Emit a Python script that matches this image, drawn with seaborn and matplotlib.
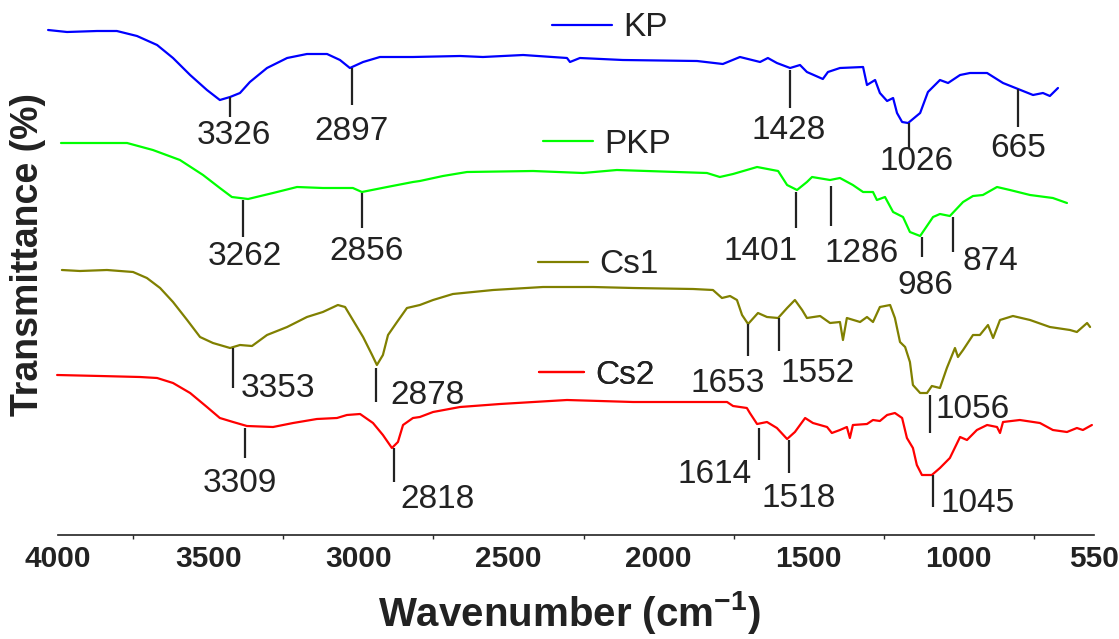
import matplotlib
matplotlib.use("Agg")
import matplotlib.pyplot as plt
import seaborn as sns

# === Spectra (stacked, arbitrary transmittance units) ===
kp_wn = [4033, 3970, 3870, 3804, 3737, 3670, 3617, 3560, 3504, 3461, 3427, 3394, 3361, 3304,
         3237, 3171, 3104, 3061, 3028, 2984, 2928, 2818, 2661, 2585, 2451, 2305, 2295, 2262,
         2119, 1872, 1786, 1729, 1662, 1636, 1606, 1562, 1529, 1506, 1453, 1436, 1396, 1319,
         1306, 1279, 1263, 1239, 1219, 1206, 1189, 1169, 1129, 1103, 1063, 1036, 996, 963,
         906, 853, 803, 753, 720, 697, 670]
kp_t = [505, 503, 504, 504, 499, 490, 477, 460, 445, 435, 438, 442, 453, 467,
        477, 481, 481, 475, 467, 473, 478, 478, 479, 478, 480, 477, 473, 477,
        475, 474, 471, 478, 473, 477, 472, 467, 470, 463, 456, 463, 467, 468,
        450, 455, 442, 434, 437, 422, 413, 412, 422, 443, 455, 452, 460, 462,
        462, 452, 446, 440, 442, 439, 447]

pkp_wn = [3990, 3860, 3770, 3684, 3594, 3517, 3461, 3421, 3367, 3284, 3204, 3118, 3018, 2988,
          2904, 2818, 2795, 2718, 2638, 2418, 2252, 2139, 1939, 1839, 1796, 1752, 1672, 1602,
          1572, 1539, 1506, 1489, 1429, 1396, 1353, 1319, 1286, 1273, 1246, 1219, 1186, 1163,
          1129, 1086, 1063, 1030, 986, 953, 920, 873, 830, 763, 687, 640]
pkp_t = [392, 392, 392, 385, 375, 360, 347, 338, 336, 342, 348, 347, 347, 343,
         348, 353, 354, 359, 363, 364, 362, 365, 363, 362, 358, 361, 368, 364,
         350, 345, 353, 358, 355, 357, 350, 343, 343, 335, 338, 323, 318, 303,
         299, 318, 321, 319, 333, 339, 340, 348, 345, 340, 337, 332]

cs1_wn = [3987, 3927, 3837, 3750, 3704, 3660, 3617, 3570, 3527, 3484, 3427, 3394, 3354, 3304,
          3237, 3171, 3118, 3068, 3044, 3018, 2984, 2954, 2938, 2918, 2901, 2871, 2838, 2795,
          2751, 2685, 2551, 2385, 2218, 2085, 1885, 1819, 1789, 1762, 1739, 1722, 1702, 1669,
          1639, 1602, 1572, 1546, 1522, 1506, 1462, 1429, 1396, 1386, 1373, 1329, 1306, 1286,
          1263, 1229, 1213, 1196, 1179, 1163, 1153, 1129, 1106, 1090, 1063, 1040, 1013, 1003,
          986, 953, 930, 903, 886, 863, 820, 763, 697, 630, 607, 573, 563]
cs1_t = [265, 264, 265, 263, 257, 247, 233, 215, 198, 192, 187, 190, 189, 200,
         208, 218, 223, 230, 228, 215, 198, 180, 170, 180, 200, 213, 227, 230,
         235, 241, 245, 248, 248, 247, 246, 245, 237, 239, 235, 220, 211, 222,
         218, 217, 227, 235, 225, 217, 219, 212, 213, 195, 217, 213, 218, 213,
         228, 230, 217, 193, 188, 173, 150, 142, 142, 149, 147, 167, 187, 178,
         185, 200, 200, 210, 197, 215, 219, 215, 208, 205, 203, 212, 208]

cs2_wn = [4003, 3860, 3727, 3670, 3617, 3560, 3504, 3461, 3417, 3371, 3284, 3217, 3138, 3071,
          3038, 2994, 2951, 2918, 2888, 2868, 2851, 2818, 2795, 2751, 2661, 2528, 2305, 2195,
          2085, 1972, 1772, 1752, 1706, 1696, 1672, 1639, 1606, 1572, 1546, 1512, 1486, 1439,
          1423, 1396, 1373, 1363, 1353, 1306, 1286, 1263, 1239, 1213, 1189, 1173, 1153, 1140,
          1123, 1090, 1063, 1030, 996, 973, 940, 906, 873, 863, 853, 797, 730, 687, 640, 607,
          587, 557]
cs2_t = [160, 159, 158, 157, 152, 142, 128, 117, 113, 109, 108, 112, 116, 117,
         120, 121, 112, 100, 87, 93, 110, 117, 118, 123, 128, 131, 135, 134,
         133, 133, 133, 129, 127, 122, 111, 113, 107, 96, 103, 117, 112, 108,
         102, 105, 108, 97, 110, 111, 115, 114, 120, 122, 117, 97, 87, 70,
         60, 60, 67, 77, 98, 95, 105, 110, 108, 102, 113, 115, 112, 105, 103, 107,
         105, 110]

# === Peak marks: label, mark x, mark top, mark bottom, label x, label baseline ===
kp_peaks = [("3326", 3427, 438, 418, 3414, 391), ("2897", 3021, 467, 430, 3024, 395),
            ("1428", 1562, 465, 427, 1566, 396), ("1026", 1166, 412, 387, 1140, 365),
            ("665", 803, 446, 408, 803, 378)]
pkp_peaks = [("3262", 3384, 335, 298, 3377, 270), ("2856", 2988, 342, 307, 2974, 275),
             ("1401", 1542, 343, 307, 1659, 275), ("1286", 1426, 349, 309, 1323, 273),
             ("986", 1123, 298, 278, 1113, 241), ("874", 1020, 318, 283, 896, 265)]
cs1_peaks = [("3353", 3417, 187, 147, 3267, 138), ("2878", 2941, 167, 133, 2771, 131),
             ("1653", 1702, 211, 179, 1769, 143), ("1552", 1599, 217, 184, 1469, 153),
             ("1056", 1096, 140, 102, 953, 117)]
cs2_peaks = [("3309", 3377, 107, 77, 3394, 43), ("2818", 2881, 87, 53, 2735, 27),
             ("1614", 1666, 107, 75, 1815, 52), ("1518", 1566, 95, 62, 1532, 28),
             ("1045", 1086, 60, 28, 936, 23)]

names = ["KP", "PKP", "Cs1", "Cs2"]
colors = ["#0000ff", "#00ff00", "#808000", "#ff0000"]
spectra = [(kp_wn, kp_t), (pkp_wn, pkp_t), (cs1_wn, cs1_t), (cs2_wn, cs2_t)]
peaks = [kp_peaks, pkp_peaks, cs1_peaks, cs2_peaks]
# legend anchor (axes fraction) and handle length for each series
legend_pos = [(0.4768, 0.9477, 1.8), (0.4681, 0.7308, 1.5), (0.4633, 0.5047, 1.5), (0.4643, 0.2990, 1.35)]

# === Style ===
sns.set_style("white")
plt.rcParams["font.family"] = ["Liberation Sans", "DejaVu Sans"]
plt.rcParams["mathtext.fontset"] = "custom"
plt.rcParams["mathtext.rm"] = "Liberation Sans"
plt.rcParams["mathtext.bf"] = "Liberation Sans:bold"
text_color = "#222222"

fig = plt.figure(figsize=(11.19, 6.39), dpi=100)
ax = fig.add_axes([58 / 1119, 104 / 639, 1036 / 1119, 535 / 639])

handles = []
for (wn, t), name, col in zip(spectra, names, colors):
    sns.lineplot(x=wn, y=t, sort=False, color=col, linewidth=1.6, ax=ax)
    ln = ax.lines[-1]
    ln.set_clip_on(False)
    handles.append(ln)

# === Peak labels ===
for plist in peaks:
    for lab, mx, top, bot, tx, ty in plist:
        ax.vlines(mx, bot, top, color=text_color, linewidth=1.6)
        ax.text(tx, ty, lab, ha="center", va="baseline", fontsize=24, color=text_color)

# === One inline legend entry per spectrum ===
for h, name, (lx, ly, hl) in zip(handles, names, legend_pos):
    leg = ax.legend([h], [name], loc="center left", bbox_to_anchor=(lx, ly), frameon=False,
                    fontsize=24, handlelength=hl, handletextpad=0.35, borderpad=0,
                    borderaxespad=0, labelcolor=text_color)
    ax.add_artist(leg)

# === Axes ===
ax.set_xlim(4000, 550)
ax.set_ylim(0, 535)
ax.set_xticks([4000, 3500, 3000, 2500, 2000, 1500, 1000, 550])
ax.set_xticks([3750, 3250, 2750, 2250, 1750, 1250, 750], minor=True)
ax.set_yticks([])
ax.tick_params(axis="x", which="major", direction="out", length=5, width=1, pad=2,
               labelsize=21.5, colors=text_color)
ax.tick_params(axis="x", which="minor", direction="out", length=3, width=1, bottom=True)
for lbl in ax.get_xticklabels():
    lbl.set_fontweight("bold")
for side in ["left", "top", "right"]:
    ax.spines[side].set_visible(False)
ax.spines["bottom"].set_color(text_color)
ax.spines["bottom"].set_linewidth(1.2)

fig.text(28 / 1119, 1 - 254 / 639, "Transmittance (%)", rotation=90, ha="center", va="center",
         fontsize=27, fontweight="bold", color=text_color)
fig.text(569 / 1119, 1 - 613 / 639, r"Wavenumber (cm$^{\mathbf{-1}}$)", ha="center", va="center",
         fontsize=29, fontweight="bold", color=text_color)

plt.savefig("out.png", dpi=100)
